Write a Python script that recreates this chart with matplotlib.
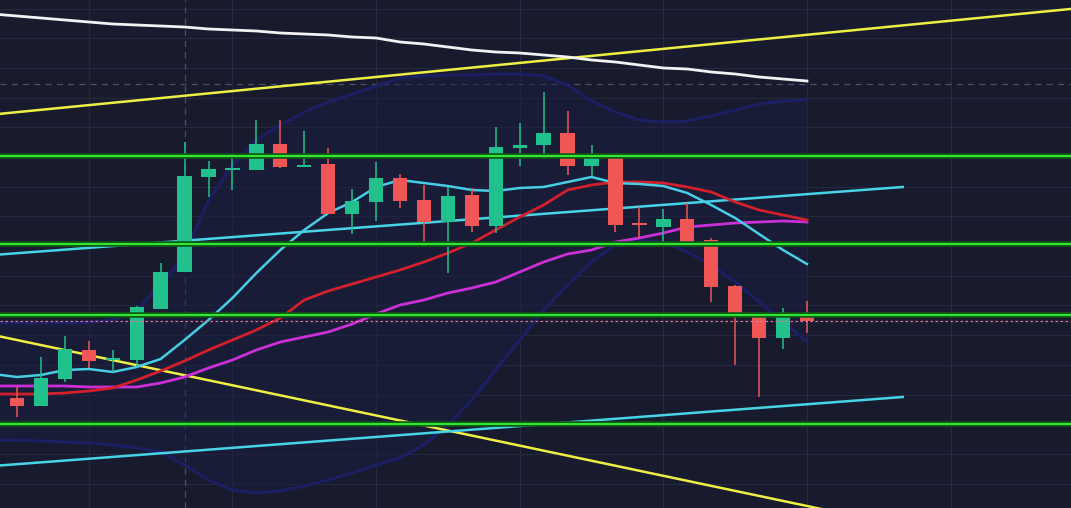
import numpy as np
import matplotlib
matplotlib.use("Agg")
import matplotlib.pyplot as plt

# candle data (bar index 0..33)
opens  = [110.2, 109.4, 112.1, 115.0, 114.0, 114.0, 119.1, 122.8, 132.3, 133.0,
          133.0, 135.6, 133.3, 133.6, 128.6, 129.8, 132.2, 130.0, 127.8, 130.5,
          127.4, 135.2, 135.5, 136.7, 133.4, 134.3, 127.6, 127.3, 128.1, 126.0,
          121.4, 118.4, 116.2, 118.3]
highs  = [111.3, 114.3, 116.4, 115.9, 115.0, 119.4, 123.7, 135.8, 133.9, 134.3,
          138.0, 138.0, 136.9, 135.2, 131.1, 133.8, 132.6, 131.5, 131.3, 131.2,
          137.3, 137.7, 140.8, 138.9, 135.5, 134.4, 129.3, 129.1, 129.7, 126.2,
          121.5, 118.5, 119.2, 119.9]
lows   = [108.3, 109.4, 111.8, 113.2, 112.8, 113.3, 119.1, 122.8, 130.3, 131.0,
          133.0, 133.2, 133.3, 128.6, 126.6, 127.9, 129.2, 125.8, 122.7, 126.8,
          126.7, 133.4, 134.1, 132.5, 132.4, 126.8, 126.2, 125.3, 125.8, 119.8,
          113.5, 110.3, 115.1, 116.7]
closes = [109.4, 112.2, 115.1, 113.9, 114.2, 119.3, 122.8, 132.4, 133.1, 133.1,
          135.6, 133.3, 133.5, 128.6, 129.9, 132.2, 129.9, 127.8, 130.4, 127.4,
          135.3, 135.5, 136.7, 133.4, 134.3, 127.5, 127.5, 128.1, 125.8, 121.3,
          118.3, 116.2, 118.3, 117.9]

# indicator values for bar index -1..33
ma_white = [148.6, 148.4, 148.2, 148.0, 147.8, 147.6, 147.5, 147.4, 147.3, 147.1,
            147.0, 146.9, 146.7, 146.6, 146.5, 146.3, 146.2, 145.8, 145.6, 145.3,
            145.0, 144.8, 144.7, 144.5, 144.3, 144.0, 143.8, 143.5, 143.2, 143.1,
            142.8, 142.6, 142.3, 142.1, 141.9]
ma_fast = [112.6, 112.3, 112.5, 113.0, 113.1, 112.8, 113.3, 114.1, 116.0, 118.0,
           120.2, 122.7, 125.0, 127.0, 128.7, 129.8, 131.3, 132.0, 131.7, 131.4,
           131.0, 130.9, 131.2, 131.3, 131.8, 132.3, 131.7, 131.6, 131.4, 130.7,
           129.5, 128.2, 126.6, 125.0, 123.6]
ma_mid = [110.6, 110.6, 110.6, 110.7, 110.9, 111.2, 112.0, 112.9, 113.9, 115.0,
          116.0, 117.0, 118.2, 120.0, 120.9, 121.6, 122.3, 123.0, 123.8, 124.7,
          125.7, 127.0, 128.3, 129.5, 131.0, 131.5, 131.8, 131.8, 131.7, 131.3,
          130.8, 129.8, 129.0, 128.5, 128.0]
ma_slow = [111.4, 111.4, 111.4, 111.4, 111.3, 111.3, 111.3, 111.7, 112.3, 113.2,
           114.0, 115.0, 115.8, 116.3, 116.8, 117.6, 118.6, 119.5, 120.0, 120.7,
           121.2, 121.8, 122.8, 123.8, 124.6, 125.0, 125.8, 126.2, 126.7, 127.3,
           127.5, 127.7, 127.8, 127.9, 127.8]
bb_upper = [117.7, 117.7, 117.7, 117.7, 117.8, 118.0, 119.0, 121.5, 124.5, 130.0,
            133.5, 136.0, 137.5, 138.8, 139.8, 140.6, 141.4, 142.2, 142.4, 142.5,
            142.5, 142.6, 142.6, 142.4, 141.5, 139.9, 138.8, 138.0, 137.8, 137.9,
            138.4, 139.0, 139.6, 139.9, 140.0]
bb_lower = [106.0, 106.0, 105.9, 105.8, 105.7, 105.5, 105.2, 104.8, 103.5, 102.0,
            101.0, 100.7, 100.9, 101.4, 102.0, 102.7, 103.5, 104.2, 105.5, 107.5,
            110.0, 113.0, 116.0, 119.0, 121.5, 123.8, 125.5, 126.0, 125.8, 124.8,
            123.5, 121.8, 119.8, 117.8, 115.8]

# horizontal levels and trendlines (bar index, price)
levels = [134.4, 125.6, 118.5, 107.6]
resist_dashed = 141.6
yellow_up = ([-1, 44], [138.55, 149.1])
yellow_down = ([-1, 34], [116.5, 98.9])
cyan_up = ([-1, 37], [124.5, 131.3])
cyan_down = ([-1, 37], [103.4, 110.3])

bg = "#171b2d"
up_col = "#22c08c"
down_col = "#f05656"

fig = plt.figure(figsize=(10.71, 5.08), dpi=100, facecolor=bg)
ax = fig.add_axes([0, 0, 1, 1])
ax.set_facecolor(bg)
ax.set_xlim(-0.71, 44.03)
ax.set_ylim(99.2, 150.0)
ax.axis("off")

# grid
for gx in range(3, 45, 6):
    ax.axvline(gx, color="#262a3e", lw=0.8, zorder=0)
for gy in np.arange(149.15, 99.0, -2.97):
    ax.axhline(gy, color="#262a3e", lw=0.8, zorder=0)
ax.axvline(7, color="#4c5064", lw=0.9, ls=(0, (5, 4)), zorder=1)
ax.axhline(resist_dashed, color="#4c5064", lw=0.9, ls=(0, (5, 4)), zorder=1)

idx_ext = np.arange(-1, 34)

# bollinger band
ax.fill_between(idx_ext, bb_lower, bb_upper, color="#1a1e45", alpha=0.45, lw=0, zorder=1)
ax.plot(idx_ext, bb_upper, color="#1b1f64", lw=2.2, zorder=2)
ax.plot(idx_ext, bb_lower, color="#1b1f64", lw=2.2, zorder=2)

# trendlines
ax.plot(*yellow_up, color="#eeee44", lw=1.8, zorder=3)
ax.plot(*yellow_down, color="#eeee44", lw=1.8, zorder=3)
ax.plot(*cyan_up, color="#48d4e8", lw=1.8, zorder=3)
ax.plot(*cyan_down, color="#48d4e8", lw=1.8, zorder=3)

# moving averages
ax.plot(idx_ext, ma_white, color="#f2f2f2", lw=2.0, zorder=4)
ax.plot(idx_ext, ma_slow, color="#cc2fd8", lw=2.0, zorder=4)
ax.plot(idx_ext, ma_mid, color="#d3202c", lw=2.0, zorder=4)
ax.plot(idx_ext, ma_fast, color="#48cde4", lw=1.8, zorder=4)

# candles
idx = np.arange(len(opens))
o = np.array(opens); c = np.array(closes)
colors = [up_col if cc >= oo else down_col for oo, cc in zip(o, c)]
ax.vlines(idx, lows, highs, colors=colors, lw=1.1, zorder=5)
body_h = np.maximum(np.abs(c - o), 0.2)
ax.bar(idx, body_h, bottom=np.minimum(o, c), width=0.6, color=colors, lw=0, zorder=6)

# horizontal support / resistance levels
for lv in levels:
    ax.axhline(lv, color="#0e5a14", lw=4.0, zorder=7)
    ax.axhline(lv, color="#33e633", lw=1.5, zorder=7)

# last price line
ax.axhline(closes[-1], color="#e07a9a", lw=0.9, ls=(0, (2, 2)), zorder=7)

fig.savefig("out.png", dpi=100, facecolor=bg)
